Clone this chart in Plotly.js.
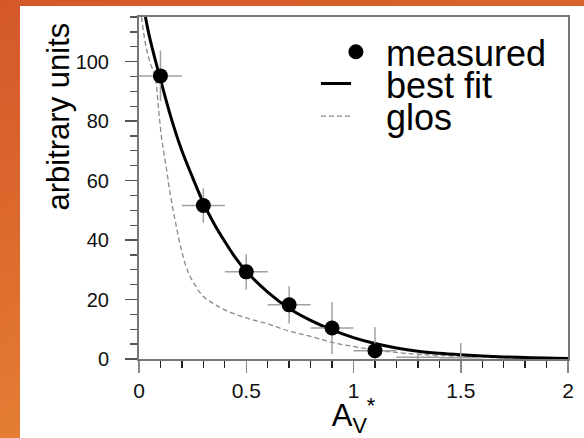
<!DOCTYPE html>
<html>
<head>
<meta charset="utf-8">
<script src="https://cdn.plot.ly/plotly-3.0.1.min.js"></script>
<style>
  html, body { margin: 0; padding: 0; width: 584px; height: 438px; overflow: hidden; }
  body { background: linear-gradient(165deg, #d4582a 0%, #de6c2e 45%, #ea8c38 100%); position: relative; }
  #chart { position: absolute; left: 20px; top: 6px; width: 564px; height: 432px; background: #fff; }
</style>
</head>
<body>
<div id="chart"></div>
<script>
// measured points
const measX = [0.1, 0.3, 0.5, 0.7, 0.9, 1.1];
const measY = [95.2, 51.6, 29.3, 18.2, 10.4, 2.8];
const measErrX = [0.1, 0.1, 0.1, 0.1, 0.1, 0.1];
const measErrY = [8.5, 5.8, 5.9, 6.3, 8.8, 8.0];
// bins with (near) zero content: only error crosses visible
const emptyX = [1.3, 1.5];
const emptyY = [0.6, 0.4];
const emptyErrX = [0.1, 0.1];
const emptyErrY = [1.5, 5.0];
// best fit curve
const fitX = [0.03, 0.05, 0.1, 0.15, 0.2, 0.25, 0.3, 0.35, 0.4, 0.45, 0.5, 0.6, 0.7, 0.8, 0.9, 1.0, 1.1, 1.2, 1.3, 1.4, 1.5, 1.6, 1.7, 1.8, 1.9, 2.0];
const fitY = [115, 108, 94, 81, 70, 61, 52.5, 45.5, 39.5, 34, 29.5, 22.5, 17.0, 13.0, 9.8, 7.2, 5.2, 3.7, 2.6, 1.9, 1.4, 1.0, 0.7, 0.5, 0.3, 0.2];
// glos curve
const glosX = [0.012, 0.03, 0.05, 0.075, 0.09, 0.106, 0.13, 0.142, 0.17, 0.2, 0.23, 0.26, 0.3, 0.35, 0.4, 0.5, 0.6, 0.7, 0.8, 0.9, 1.0, 1.1, 1.2, 1.3, 1.4, 1.5, 1.6, 1.7, 1.8, 1.9, 2.0];
const glosY = [115, 106, 100, 95, 85, 74, 63, 57, 46, 36, 29, 25, 21, 18.5, 16.5, 13.8, 11.8, 9.4, 7.6, 5.6, 4.2, 3.0, 2.2, 1.6, 1.2, 0.9, 0.6, 0.4, 0.3, 0.2, 0.1];
// axis ticks
const xTicks = [0, 0.5, 1, 1.5, 2];
const xTickText = ['0', '0.5', '1', '1.5', '2'];
const yTicks = [0, 20, 40, 60, 80, 100];
const yTickText = ['0', '20', '40', '60', '80', '100'];
// legend labels
const legendNames = { measured: 'measured', fit: 'best fit', glos: 'glos' };

const F = 'Liberation Sans, Arial, Helvetica, sans-serif';
const NB = '\u00a0';

const traces = [
  {
    x: glosX, y: glosY, type: 'scatter', mode: 'lines', name: NB + NB + NB + legendNames.glos,
    line: { color: '#8a8a8a', width: 1.3, dash: '5px,3px', shape: 'spline' },
    legend: 'legend3'
  },
  {
    x: fitX, y: fitY, type: 'scatter', mode: 'lines', name: NB + NB + NB + legendNames.fit,
    line: { color: '#000', width: 3, shape: 'spline' },
    legend: 'legend2'
  },
  {
    x: emptyX, y: emptyY, type: 'scatter', mode: 'markers', showlegend: false,
    marker: { size: 1, color: 'rgba(0,0,0,0)' },
    error_x: { type: 'data', array: emptyErrX, color: '#a0a0a0', thickness: 1.5, width: 0 },
    error_y: { type: 'data', array: emptyErrY, color: '#a0a0a0', thickness: 1.5, width: 0 },
    hoverinfo: 'skip'
  },
  {
    x: measX, y: measY, type: 'scatter', mode: 'markers', name: NB + legendNames.measured,
    marker: { size: 15, color: '#000' },
    error_x: { type: 'data', array: measErrX, color: '#a0a0a0', thickness: 1.5, width: 0 },
    error_y: { type: 'data', array: measErrY, color: '#a0a0a0', thickness: 1.5, width: 0 },
    legend: 'legend'
  }
];

const legBase = { xanchor: 'left', yanchor: 'middle', bgcolor: 'rgba(0,0,0,0)', borderwidth: 0,
  font: { family: F, size: 36, color: '#000' }, itemwidth: 30 };

const layout = {
  width: 564, height: 432,
  margin: { l: 119, r: 16, t: 11, b: 79 },
  paper_bgcolor: '#fff', plot_bgcolor: '#fff',
  font: { family: F, color: '#000' },
  showlegend: true,
  legend: Object.assign({}, legBase, { x: 0.459, y: 0.898 }),
  legend2: Object.assign({}, legBase, { x: 0.4126, y: 0.805 }),
  legend3: Object.assign({}, legBase, { x: 0.4126, y: 0.71 }),
  xaxis: {
    range: [0, 2], tickvals: xTicks, ticktext: xTickText,
    ticks: 'outside', ticklen: 12, tickwidth: 1.5, tickcolor: '#888',
    minor: { dtick: 0.1, ticks: 'outside', ticklen: 7, tickwidth: 1.3, tickcolor: '#222' },
    showline: true, linecolor: '#777', linewidth: 2, mirror: true,
    showgrid: false, zeroline: false,
    tickfont: { family: F, size: 21, color: '#111' },
    ticklabelstandoff: 0,
    title: { text: 'A<sub>V</sub><sup>*</sup>', font: { family: F, size: 31, color: '#000' }, standoff: 12 }
  },
  yaxis: {
    range: [0, 115], tickvals: yTicks, ticktext: yTickText,
    ticks: 'outside', ticklen: 12, tickwidth: 1.5, tickcolor: '#555',
    minor: { dtick: 5, ticks: 'outside', ticklen: 7, tickwidth: 1.3, tickcolor: '#555' },
    showline: true, linecolor: '#777', linewidth: 2, mirror: true,
    showgrid: false, zeroline: false,
    tickfont: { family: F, size: 20, color: '#111' },
    ticklabelstandoff: 12
  },
  annotations: [{
    text: 'arbitrary units', xref: 'paper', yref: 'paper', x: -0.1865, y: 0.709,
    xanchor: 'center', yanchor: 'middle', textangle: -90, showarrow: false,
    font: { family: F, size: 31, color: '#000' }
  }]
};

Plotly.newPlot('chart', traces, layout, { displayModeBar: false, staticPlot: true });
</script>
</body>
</html>
